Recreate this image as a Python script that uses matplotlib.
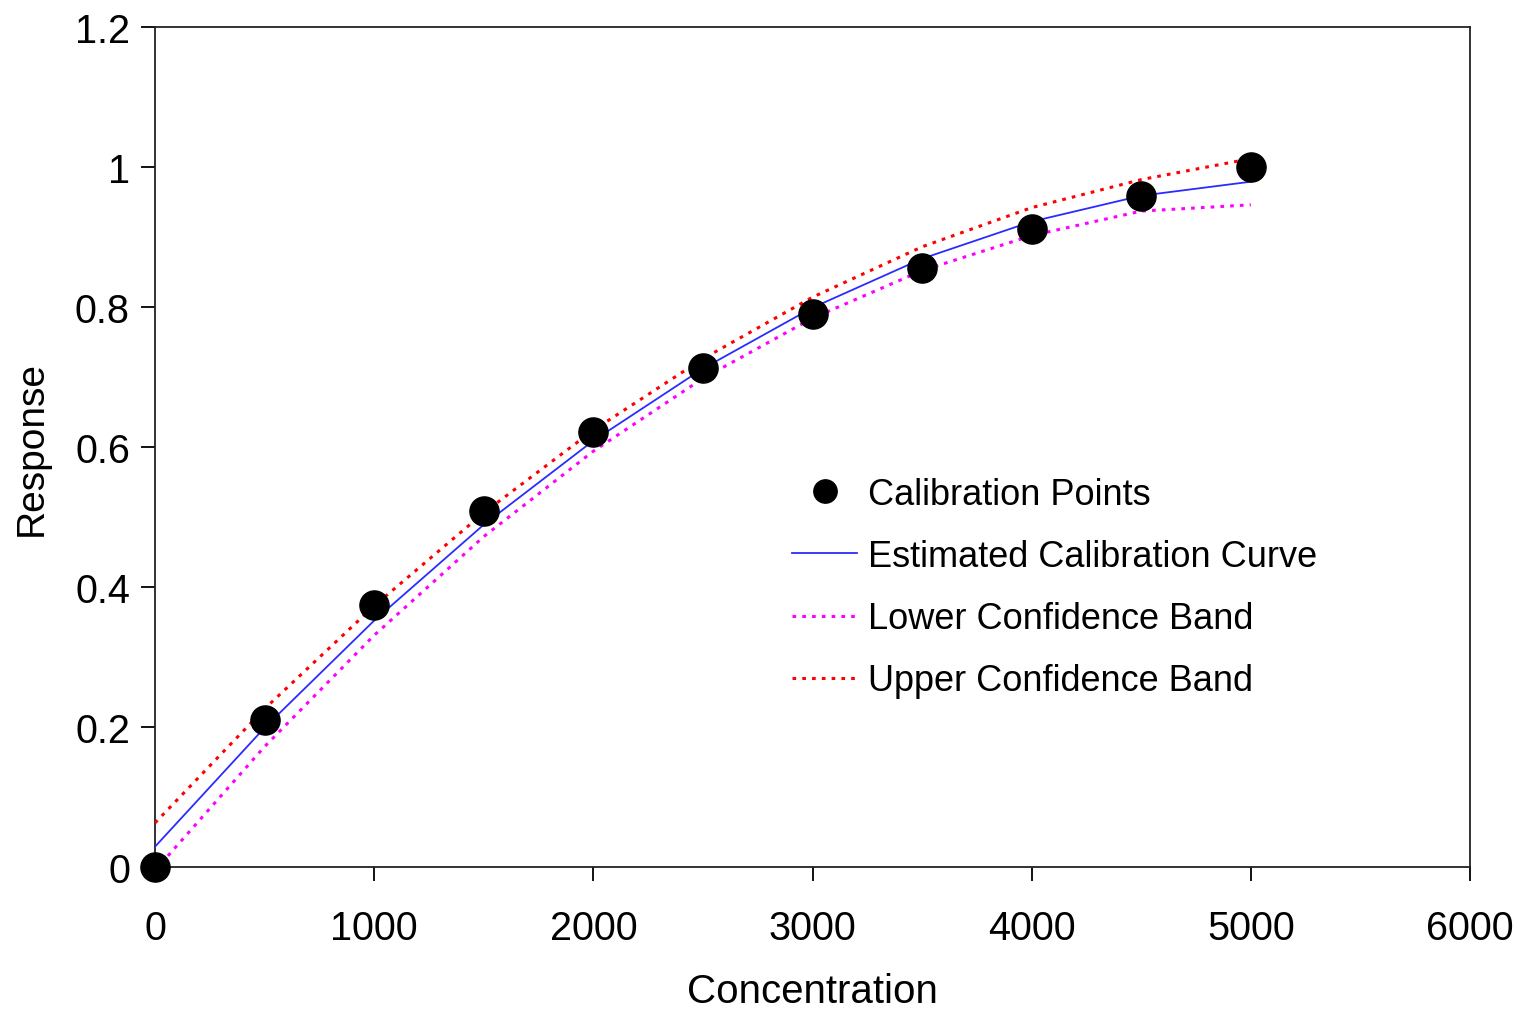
import matplotlib
matplotlib.use("Agg")
import matplotlib.pyplot as plt

# Data
conc_points = [0, 500, 1000, 1500, 2000, 2500, 3000, 3500, 4000, 4500, 5000]
resp_points = [0.0, 0.21, 0.374, 0.509, 0.621, 0.713, 0.790, 0.856, 0.911, 0.959, 1.0]

conc_curve = [0, 500, 1000, 1500, 2000, 2500, 3000, 3500, 4000, 4500, 5000]
est_curve = [0.029, 0.199, 0.352, 0.489, 0.609, 0.712, 0.799, 0.869, 0.922, 0.959, 0.979]
lower_band = [-0.005, 0.172, 0.331, 0.472, 0.594, 0.698, 0.784, 0.852, 0.902, 0.937, 0.946]
upper_band = [0.063, 0.226, 0.373, 0.506, 0.624, 0.726, 0.814, 0.886, 0.942, 0.982, 1.012]

x_ticks = [0, 1000, 2000, 3000, 4000, 5000, 6000]
x_tick_labels = ["0", "1000", "2000", "3000", "4000", "5000", "6000"]
y_ticks = [0, 0.2, 0.4, 0.6, 0.8, 1.0, 1.2]
y_tick_labels = ["0", "0.2", "0.4", "0.6", "0.8", "1", "1.2"]

plt.rcParams['font.family'] = ['Liberation Sans', 'DejaVu Sans']

fig = plt.figure(figsize=(15.2, 10.12), dpi=100)
ax = fig.add_axes([155/1520, 1-868/1012, (1470-155)/1520, (868-28)/1012])

ax.plot(conc_points, resp_points, linestyle='none', marker='o', markersize=21,
        color='black', label='Calibration Points', clip_on=False, zorder=5)
ax.plot(conc_curve, est_curve, color='#2b2bff', linewidth=1.3,
        label='Estimated Calibration Curve', zorder=3)
ax.plot(conc_curve, lower_band, color='#ff00ff', linewidth=2.2,
        linestyle=(0, (1.2, 2.0)), label='Lower Confidence Band', zorder=3)
ax.plot(conc_curve, upper_band, color='#ff0000', linewidth=2.2,
        linestyle=(0, (1.2, 2.0)), label='Upper Confidence Band', zorder=3)

ax.set_xlim(0, 6000)
ax.set_ylim(0, 1.2)
ax.set_xticks(x_ticks)
ax.set_xticklabels(x_tick_labels)
ax.set_yticks(y_ticks)
ax.set_yticklabels(y_tick_labels)
ax.tick_params(direction='out', length=10, width=1.3, labelsize=28.5, pad=8,
               colors='black')
ax.tick_params(axis='x', pad=20)
for s in ax.spines.values():
    s.set_linewidth(1.3)
    s.set_color('#222222')

ax.set_xlabel('Concentration', fontsize=29, labelpad=18)
ax.set_ylabel('Response', fontsize=28, labelpad=18)

leg = ax.legend(loc='upper left', bbox_to_anchor=((792-155)/1315, (868-478)/840),
                frameon=False, fontsize=26, handlelength=1.8, handletextpad=0.3,
                labelspacing=0.75, borderpad=0, borderaxespad=0, markerscale=0.8,
                numpoints=1)

fig.savefig('out.png', dpi=100)
